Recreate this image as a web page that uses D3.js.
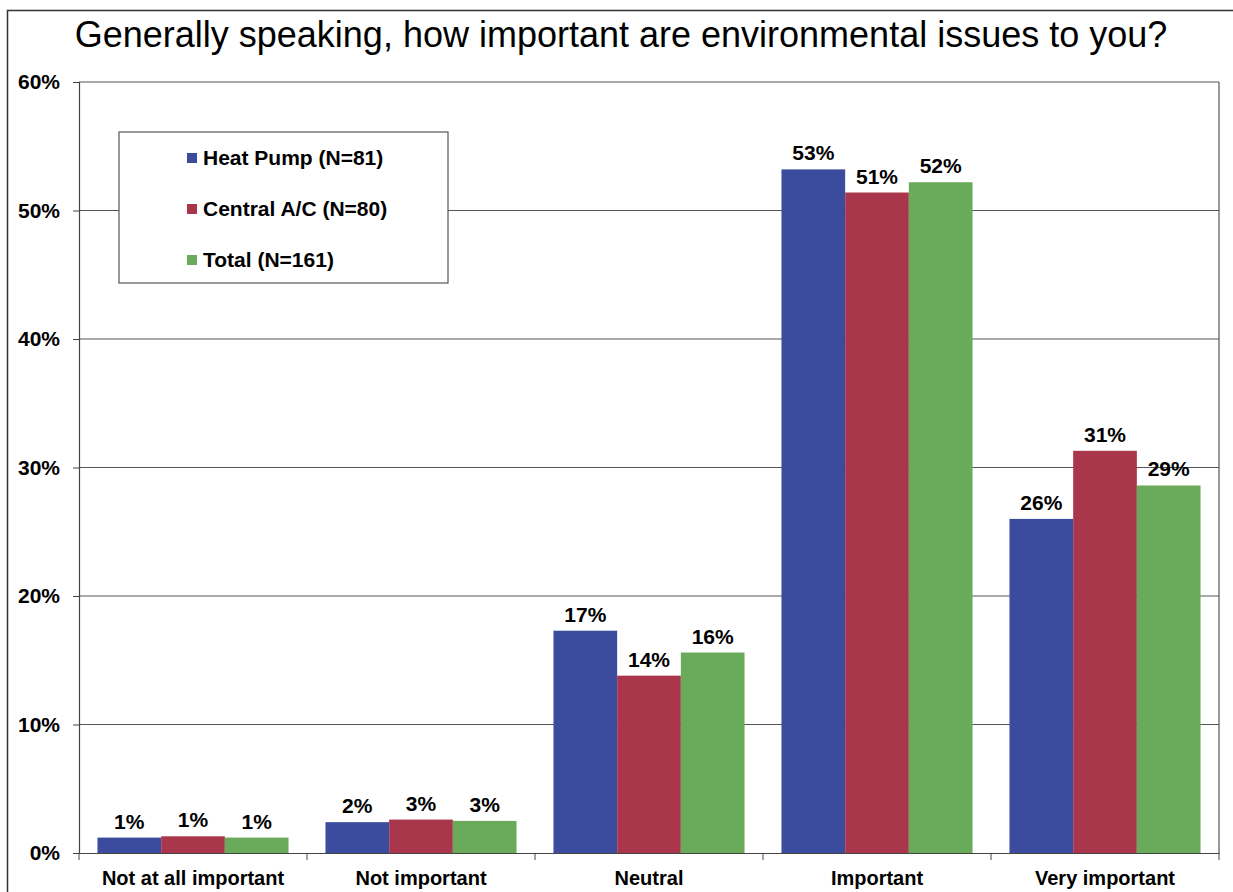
<!DOCTYPE html>
<html>
<head>
<meta charset="utf-8">
<script src="https://cdn.jsdelivr.net/npm/d3@7"></script>
<style>
  body { margin: 0; background: #fff; }
  svg { display: block; font-family: "Liberation Sans", Arial, sans-serif; }
</style>
</head>
<body>
<svg id="chart" width="1233" height="892"></svg>
<script>
// === Data ===
const categories = ["Not at all important", "Not important", "Neutral", "Important", "Very important"];
const seriesNames = ["Heat Pump (N=81)", "Central A/C (N=80)", "Total (N=161)"];
const heatPump = [1.2, 2.4, 17.3, 53.2, 26.0];
const centralAC = [1.3, 2.6, 13.8, 51.4, 31.3];
const total = [1.2, 2.5, 15.6, 52.2, 28.6];
const valueLabels = [
  ["1%", "2%", "17%", "53%", "26%"],
  ["1%", "3%", "14%", "51%", "31%"],
  ["1%", "3%", "16%", "52%", "29%"]
];
const yTicks = [0, 10, 20, 30, 40, 50, 60];
const colors = ["#3b4c9e", "#aa364b", "#6aaa5b"];

// === Layout ===
const svg = d3.select("#chart");
const margin = { left: 79, right: 14, top: 82, bottom: 39 };
const width = 1233, height = 892;

// page frame
svg.append("rect")
  .attr("x", 7.5).attr("y", 10.5)
  .attr("width", 1240).attr("height", 900)
  .attr("fill", "none").attr("stroke", "#333").attr("stroke-width", 1.5);

svg.append("text")
  .attr("x", 621).attr("y", 47)
  .attr("text-anchor", "middle")
  .style("font-size", "36px")
  .text("Generally speaking, how important are environmental issues to you?");

const x0 = d3.scaleBand()
  .domain(categories)
  .range([margin.left, width - margin.right])
  .paddingInner(0.162)
  .paddingOuter(0.081);

const x1 = d3.scaleBand()
  .domain(seriesNames)
  .range([0, x0.bandwidth()]);

const y = d3.scaleLinear()
  .domain([0, 60])
  .range([height - margin.bottom, margin.top]);

// gridlines
svg.append("g")
  .selectAll("line")
  .data(yTicks.slice(1))
  .enter().append("line")
  .attr("x1", margin.left).attr("x2", width - margin.right)
  .attr("y1", d => y(d)).attr("y2", d => y(d))
  .attr("stroke", "#555").attr("stroke-width", 1.2);

// right plot edge
svg.append("line")
  .attr("x1", width - margin.right).attr("x2", width - margin.right)
  .attr("y1", margin.top).attr("y2", y(0))
  .attr("stroke", "#555").attr("stroke-width", 1.2);

// y axis
const yAxis = svg.append("g")
  .attr("transform", `translate(${margin.left},0)`)
  .call(d3.axisLeft(y).tickValues(yTicks).tickFormat(d => d + "%").tickSize(6).tickPadding(13));
yAxis.select(".domain").attr("stroke", "#444").attr("stroke-width", 1.2);
yAxis.selectAll(".tick line").attr("stroke", "#444");
yAxis.selectAll("text")
  .style("font-size", "21px").style("font-weight", "bold").attr("fill", "#000");

// bars
const allSeries = [heatPump, centralAC, total];
const groups = svg.append("g")
  .selectAll("g")
  .data(categories)
  .enter().append("g")
  .attr("transform", d => `translate(${x0(d)},0)`);

groups.selectAll("rect")
  .data((c, i) => seriesNames.map((s, k) => ({ s, k, v: allSeries[k][i] })))
  .enter().append("rect")
  .attr("x", d => x1(d.s))
  .attr("width", x1.bandwidth())
  .attr("y", d => y(d.v))
  .attr("height", d => y(0) - y(d.v))
  .attr("fill", d => colors[d.k]);

groups.selectAll("text")
  .data((c, i) => seriesNames.map((s, k) => ({ s, k, v: allSeries[k][i], t: valueLabels[k][i] })))
  .enter().append("text")
  .attr("x", d => x1(d.s) + x1.bandwidth() / 2)
  .attr("y", d => y(d.v) - 9)
  .attr("text-anchor", "middle")
  .style("font-size", "21px").style("font-weight", "bold")
  .text(d => d.t);

// x axis
const xAxis = svg.append("g")
  .attr("transform", `translate(0,${y(0)})`)
  .call(d3.axisBottom(x0).tickSize(0).tickPadding(18));
xAxis.select(".domain").attr("stroke", "#444").attr("stroke-width", 1.2);
xAxis.selectAll("text")
  .style("font-size", "20px").style("font-weight", "bold").attr("fill", "#000");

// category separator ticks
const step = x0.step();
svg.append("g")
  .selectAll("line")
  .data(d3.range(categories.length + 1))
  .enter().append("line")
  .attr("x1", i => margin.left + i * step).attr("x2", i => margin.left + i * step)
  .attr("y1", y(0)).attr("y2", y(0) + 7)
  .attr("stroke", "#444");

// legend
const legend = svg.append("g").attr("transform", "translate(119,132)");
legend.append("rect")
  .attr("width", 329).attr("height", 151)
  .attr("fill", "#fff").attr("stroke", "#555").attr("stroke-width", 1.2);
const item = legend.selectAll("g.item")
  .data(seriesNames)
  .enter().append("g")
  .attr("class", "item")
  .attr("transform", (d, i) => `translate(68,${26 + i * 51})`);
item.append("rect")
  .attr("x", 0).attr("y", -5).attr("width", 10).attr("height", 10)
  .attr("fill", (d, i) => colors[i]);
item.append("text")
  .attr("x", 16).attr("y", 7)
  .style("font-size", "21px").style("font-weight", "bold")
  .text(d => d);
</script>
</body>
</html>
